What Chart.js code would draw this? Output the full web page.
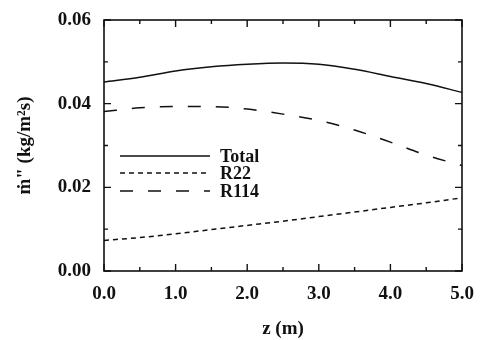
<!DOCTYPE html>
<html lang="en">
<head>
    <meta charset="UTF-8">
    <title>Mass flux along z</title>
    <script src="https://cdn.jsdelivr.net/npm/chart.js"></script>
    <style>
        html, body { margin: 0; padding: 0; background: #fff; }
        #wrap { width: 480px; height: 340px; }
    </style>
</head>
<body>
<div id="wrap"><canvas id="fluxChart" width="480" height="340"></canvas></div>

<script>
    // values
    const zValues = [0.0, 0.5, 1.0, 1.5, 2.0, 2.5, 3.0, 3.5, 4.0, 4.5, 5.0];
    const totalFlux = [0.0452, 0.0463, 0.0478, 0.0488, 0.0494, 0.0497, 0.0494, 0.0482, 0.0465, 0.0448, 0.0427];
    const r22Flux = [0.0073, 0.0080, 0.0089, 0.0099, 0.0109, 0.0119, 0.0130, 0.0141, 0.0152, 0.0163, 0.0175];
    const r114Flux = [0.0381, 0.0390, 0.0393, 0.0393, 0.0387, 0.0375, 0.0360, 0.0337, 0.0308, 0.0277, 0.0252];
    const seriesNames = ['Total', 'R22', 'R114'];
    const xTicks = [0, 1, 2, 3, 4, 5];
    const yTicks = [0, 0.02, 0.04, 0.06];

    const serif = '"Liberation Serif", "DejaVu Serif", serif';

    function toPoints(ys) {
        return zValues.map((z, i) => ({ x: z, y: ys[i] }));
    }

    // frame, inward ticks and the in-plot legend
    const framePlugin = {
        id: 'frame',
        afterDatasetsDraw(chart) {
            const c = chart.ctx;
            const a = chart.chartArea;
            const xs = chart.scales.x, ys = chart.scales.y;
            c.save();
            c.strokeStyle = '#111';
            c.lineWidth = 1.6;
            c.strokeRect(a.left, a.top, a.right - a.left, a.bottom - a.top);

            c.lineWidth = 1.4;
            c.beginPath();
            for (let v = 0; v <= 5.0001; v += 0.5) {
                const px = xs.getPixelForValue(v);
                const len = Math.abs(v - Math.round(v)) < 1e-6 ? 7 : 4;
                c.moveTo(px, a.bottom); c.lineTo(px, a.bottom - len);
                c.moveTo(px, a.top); c.lineTo(px, a.top + len);
            }
            for (let v = 0; v <= 0.06001; v += 0.01) {
                const py = ys.getPixelForValue(v);
                const major = Math.round(v * 100) % 2 === 0;
                const len = major ? 7 : 4;
                c.moveTo(a.left, py); c.lineTo(a.left + len, py);
                c.moveTo(a.right, py); c.lineTo(a.right - len, py);
            }
            c.stroke();

            // legend
            const lx0 = a.left + 16, lx1 = a.left + 106;
            const rowY = [156, 173, 191];
            c.font = 'bold 18px ' + serif;
            c.fillStyle = '#111';
            c.textBaseline = 'middle';
            chart.data.datasets.forEach((ds, i) => {
                c.beginPath();
                c.lineWidth = ds.borderWidth;
                c.setLineDash(ds.borderDash || []);
                c.moveTo(lx0, rowY[i]); c.lineTo(lx1, rowY[i]);
                c.stroke();
                c.setLineDash([]);
                c.fillText(ds.label, lx1 + 10, rowY[i] + 1);
            });
            c.restore();
        }
    };

    const ctx = document.getElementById('fluxChart').getContext('2d');
    const fluxChart = new Chart(ctx, {
        type: 'line',
        data: {
            datasets: [
                { label: seriesNames[0], data: toPoints(totalFlux), borderColor: '#111', borderWidth: 1.5, borderDash: [] },
                { label: seriesNames[1], data: toPoints(r22Flux), borderColor: '#111', borderWidth: 1.5, borderDash: [5, 4] },
                { label: seriesNames[2], data: toPoints(r114Flux), borderColor: '#111', borderWidth: 1.5, borderDash: [13, 15] }
            ]
        },
        options: {
            animation: false,
            responsive: false,
            devicePixelRatio: 1,
            layout: { padding: { top: 20, right: 18, left: 0, bottom: 0 } },
            elements: {
                point: { radius: 0 },
                line: { tension: 0.4, fill: false, cubicInterpolationMode: 'monotone' }
            },
            plugins: {
                legend: { display: false },
                tooltip: { enabled: false }
            },
            scales: {
                x: {
                    type: 'linear',
                    min: 0, max: 5,
                    afterFit(s) { s.height = 69; s.paddingLeft = 0; s.paddingRight = 0; },
                    afterBuildTicks(s) { s.ticks = xTicks.map(v => ({ value: v })); },
                    grid: { display: false, drawTicks: false },
                    border: { display: false },
                    ticks: {
                        color: '#111',
                        padding: 12,
                        font: { family: serif, size: 19, weight: 'bold' },
                        callback: v => v.toFixed(1)
                    },
                    title: {
                        display: true,
                        text: 'z (m)',
                        color: '#111',
                        padding: { top: 2, bottom: 0 },
                        font: { family: serif, size: 19, weight: 'bold' }
                    }
                },
                y: {
                    type: 'linear',
                    min: 0, max: 0.06,
                    afterFit(s) { s.width = 104; s.paddingTop = 0; s.paddingBottom = 0; },
                    afterBuildTicks(s) { s.ticks = yTicks.map(v => ({ value: v })); },
                    grid: { display: false, drawTicks: false },
                    border: { display: false },
                    ticks: {
                        color: '#111',
                        padding: 13,
                        font: { family: serif, size: 19, weight: 'bold' },
                        callback: v => v.toFixed(2)
                    },
                    title: {
                        display: true,
                        text: 'ṁ" (kg/m²s)',
                        color: '#111',
                        padding: { top: 14, bottom: 4 },
                        font: { family: serif, size: 19, weight: 'bold' }
                    }
                }
            }
        },
        plugins: [framePlugin]
    });
</script>
</body>
</html>
